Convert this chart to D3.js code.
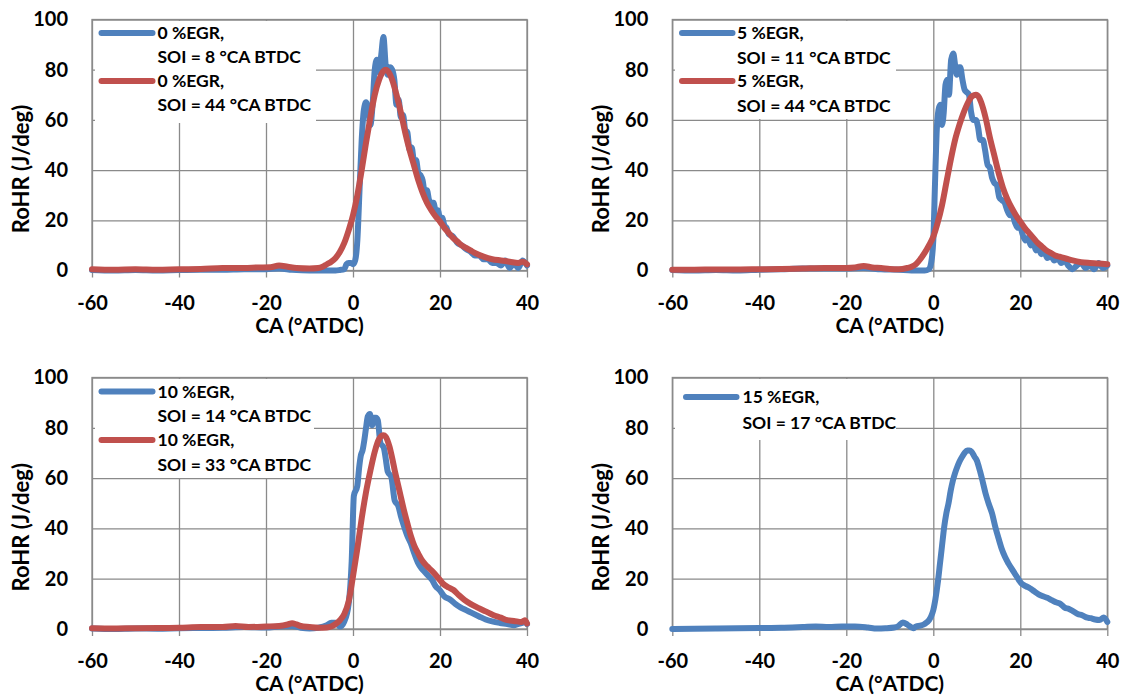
<!DOCTYPE html>
<html><head><meta charset="utf-8">
<script src="https://cdn.jsdelivr.net/npm/d3@7"></script>
<style>
html,body{margin:0;padding:0;background:#fff;}
svg text{font-family:Lato,"Open Sans",sans-serif;font-weight:bold;fill:#000;}
</style></head>
<body>
<svg id="chart" width="1126" height="698"></svg>
<script>
// ---------- data ----------
const xTicks = [-60, -40, -20, 0, 20, 40];
const yTicks = [0, 20, 40, 60, 80, 100];
const xTitle = "CA (°ATDC)";
const yTitle = "RoHR (J/deg)";

// Panel 1: 0 %EGR
const ca_0_soi8 = [-60,-55,-50,-45,-40,-35,-30,-25,-20,-17,-14,-10,-6,-4,-3,-2,-1.5,-1,-0.5,0,0.5,1,1.5,2,2.5,3,3.5,4,4.5,5,5.5,6,6.5,7,7.5,8,8.5,9,9.5,10,10.5,11,11.5,12,12.5,13,13.5,14,14.5,15,15.5,16,16.5,17,17.5,18,18.5,19,19.5,20,20.5,21,21.5,22,23,24,25,26,27,28,29,30,31,32,33,34,35,36,37,38,39,40];
const rohr_0_soi8 = [0.2,0,0.2,0,0.2,0.3,0.3,0.5,0.5,0.8,0.3,0,0,0,0.2,0.5,2.5,3,3,2.5,4,12,32,52,64,67,64,58,66,80,84,79,86,93,82,78,81,80,76,66,68,61,62,56,55,48,49,44,44,39,38,36,31,32,28,27,27,24,24,21,21,18,17,14.5,13.5,11,10,8.5,7.5,6,6,4.5,4.5,3,3,2,4,1,3,1,4,2];
const ca_0_soi44 = [-60,-55,-50,-45,-40,-35,-30,-25,-22,-19,-17,-15,-13,-10,-8,-7,-6,-5,-4,-3,-2,-1,0,1,2,3,4,5,6,7,7.5,8,9,10,11,12,13,14,15,16,17,18,19,20,21,22,23,24,25,26,27,28,30,32,34,36,38,39,40];
const rohr_0_soi44 = [0.5,0.3,0.5,0.3,0.5,0.6,1,1,1.2,1.3,2,1.5,1,0.8,1,1.5,2.5,3.5,5,7.5,11,16,22,30,40,51,61,70,76,79.5,80,79.5,76,70,63,55,48,42,36,31,27,24,21.5,19.5,17,15,13,11.5,10,9,8,7,5.5,4.5,4,3.5,3,3.5,2.5];

// Panel 2: 5 %EGR
const ca_5_soi11 = [-60,-55,-50,-45,-40,-35,-30,-25,-20,-16,-12,-8,-5,-3,-2,-1,-0.5,0,0.4,0.8,1.2,1.6,2,2.4,2.8,3.2,3.6,4.1,4.6,5,5.4,5.9,6.2,6.7,7.2,7.7,8.2,8.7,9.2,9.8,10.3,10.8,11.4,11.9,12.5,13,13.5,14,14.6,15.2,15.8,16.4,17,17.6,18.2,18.8,19.4,20,20.6,21.2,21.8,22.4,23,23.6,24.2,24.8,25.5,26.2,27,27.8,28.6,29.4,30.2,31,32,33,34,35,36,37,38,39,40];
const rohr_5_soi11 = [0.2,0,0.2,0,0.3,0.5,0.8,0.8,0.8,1,0.5,0.3,0,0,0,0.5,3,12,35,56,64,66,58,63,74,76,70,84,86.5,82,78,81,81,76,72,71,70,63,60,60,57,52,52,48,42,41,37,35,34,29,28,27,24,22,22,19,17,17,14,12,13,10,11,8,9,6.5,7.5,5,6,4,5,3,4,2,0.5,2,3,1,2,0.5,3,1,2];
const ca_5_soi44 = [-60,-55,-50,-45,-40,-35,-30,-25,-20,-18,-16,-14,-12,-10,-8,-6,-5,-4,-3,-2,-1,0,1,2,3,4,5,6,7,8,9,9.8,10.5,11,12,13,14,15,16,17,18,19,20,21,22,23,24,25,26,27,28,29,30,31,32,34,36,38,40];
const rohr_5_soi44 = [0.3,0.3,0.4,0.4,0.5,0.6,0.8,1,1,1.2,1.8,1.2,1,0.6,0.5,1,1.5,2.5,4.5,7,10,13.5,19,26,35,44,52,58,63,67,69.5,70,69,67,61,53,46,39,33,28.5,25,22,19.5,17,15,13,11,9.5,8,7,6,5.5,5,4.5,4,3.3,3,2.8,2.5];

// Panel 3: 10 %EGR
const ca_10_soi14 = [-60,-55,-50,-45,-40,-35,-30,-25,-20,-17,-14,-12,-10,-8,-6,-5,-4,-3,-2,-1,-0.3,0.2,1,1.4,1.8,2.2,2.6,3,3.4,3.9,4.4,4.9,5.3,5.7,6.3,7.1,7.5,8,8.8,9.6,10.4,11,11.7,12.5,13.3,14.1,14.9,15.8,16.6,17.4,18.2,19,19.9,21,22.3,23.5,24.8,26,27.3,29,30.5,32,33.8,35.5,37,38,39,39.6,40];
const rohr_10_soi14 = [0.2,0,0.2,0.1,0.3,0.4,0.5,0.8,0.6,1,1.2,0.5,0.2,0.5,1.5,2.5,2.5,1,3,10,27,53,57,64,69,71,75,80,84.5,85.5,81,84,84,83,74,72,68,62.5,60.5,51,49,45,41,37,34,30,26.5,24,22.5,21,19.5,17,15.5,13,11.7,10,8.5,7.5,6.4,5,3.8,3,2.4,2,1.5,2,2.5,3,2];
const ca_10_soi33 = [-60,-55,-50,-45,-40,-35,-30,-27,-24,-20,-17,-15,-14,-13,-12,-10,-8,-6,-5,-4,-3,-2,-1,0,1,2,3,4,5,6,7,7.5,8.4,9,9.6,10.2,10.8,11.6,12.5,13.3,14.1,15,15.8,17,18.2,19.5,20.7,22,23.1,24.3,25.6,27,28.9,30.5,32.2,34,35.5,37,38.8,39.5,40];
const rohr_10_soi33 = [0.3,0.2,0.3,0.4,0.5,0.8,0.8,1.2,0.8,1,1.2,1.8,2.3,1.8,1.2,0.8,0.5,0.6,1,2,3.5,6,11,21,32,44,54.5,63,70.5,75.5,77,76.5,72.4,68,63,58.5,54,48,42,37,33,30,27.5,25,23,20.5,18,16.5,15.5,13.5,11.6,10,8.3,7,5.6,4.5,3.5,3.2,2.8,3.5,2.2];

// Panel 4: 15 %EGR
const ca_15_soi17 = [-60,-55,-50,-45,-40,-35,-30,-27,-24,-21,-18,-15,-13,-11,-9,-8,-7,-6,-5,-4.5,-4,-3,-2,-1,-0.5,0,0.5,1,1.6,2,2.5,3,3.5,4,4.5,5,5.5,6,6.6,7.2,7.8,8.3,8.8,9.5,10,10.7,11.3,12,12.7,13.5,14.2,15,15.7,16.5,17.3,18.3,19.3,20.3,21.3,22.2,23.2,24.2,25.2,26.2,27.2,28.2,29.2,30.2,31.2,32.2,33.2,34.2,35.2,36.2,37.2,38.2,39.2,40];
const rohr_15_soi17 = [0,0.1,0.2,0.3,0.4,0.5,0.8,1,0.8,1,1,0.6,0.2,0.3,0.6,1.2,2.6,1.8,0.6,0.3,1,1.3,2,3.5,5,7.5,12,18,27,33,40.5,46,50,55,59,62,64.4,66.5,68.4,70,71,71,70.5,68.4,67,63,59,54,50,46,41,36,32,28.6,26,23.2,20.5,18,17,16.2,15,13.8,13,12.4,11.5,10.6,10,8.5,8,7,6,5.5,4.6,4.3,3.8,3.6,4.6,2.8];

const legends = [
  ["0 %EGR,", "SOI = 8 °CA BTDC", "0 %EGR,", "SOI = 44 °CA BTDC"],
  ["5 %EGR,", "SOI = 11 °CA BTDC", "5 %EGR,", "SOI = 44 °CA BTDC"],
  ["10 %EGR,", "SOI = 14 °CA BTDC", "10 %EGR,", "SOI = 33 °CA BTDC"],
  ["15 %EGR,", "SOI = 17 °CA BTDC"]
];

const BLUE = "#4F81BD", RED = "#C0504D", GRID = "#8A8A8A";

const panels = [
  {l:92, r:527, t:19.5, b:270.5, series:[[ca_0_soi8, rohr_0_soi8, BLUE],[ca_0_soi44, rohr_0_soi44, RED]], legend:legends[0], box:{x:95,y:21,w:221,h:102}, lx:[101.5,152.5,157.5], rows:[13.5,37.5,61.5,85.5]},
  {l:672.3, r:1107.3, t:19.5, b:270.5, series:[[ca_5_soi11, rohr_5_soi11, BLUE],[ca_5_soi44, rohr_5_soi44, RED]], legend:legends[1], box:{x:675,y:21,w:221,h:98}, lx:[682,732.5,737], rows:[13.5,38,61.5,86]},
  {l:92, r:527, t:377.5, b:629, series:[[ca_10_soi14, rohr_10_soi14, BLUE],[ca_10_soi33, rohr_10_soi33, RED]], legend:legends[2], box:{x:95,y:379,w:219,h:99}, lx:[101.5,152.5,157.5], rows:[14,38.5,62.5,87.5]},
  {l:672.3, r:1107.3, t:377.5, b:629, series:[[ca_15_soi17, rohr_15_soi17, BLUE]], legend:legends[3], box:{x:675,y:379,w:221,h:61}, lx:[686,736.5,742.5], rows:[19.5,45.5]}
];

const svg = d3.select("#chart");
svg.append("rect").attr("width",1126).attr("height",698).attr("fill","#fff");
const fmt = d => String(d);

panels.forEach(p => {
  const x = d3.scaleLinear().domain([-60, 40]).range([p.l, p.r]);
  const y = d3.scaleLinear().domain([0, 100]).range([p.b, p.t]);
  const g = svg.append("g");

  // y gridlines + labels
  const ya = g.append("g").attr("transform", `translate(${p.l},0)`)
    .call(d3.axisLeft(y).tickValues(yTicks).tickFormat(fmt).tickSize(-(p.r - p.l)).tickPadding(24));
  ya.select(".domain").remove();
  ya.selectAll(".tick line").attr("stroke", GRID).attr("stroke-width", 1.3);
  ya.selectAll(".tick text").attr("font-size", 20).attr("font-family", "Lato").attr("font-weight", "bold").attr("fill", "#000");

  // x gridlines + labels
  const ext = 7;
  const xa = g.append("g").attr("transform", `translate(0,${p.b + ext})`)
    .call(d3.axisBottom(x).tickValues(xTicks).tickFormat(fmt).tickSize(-(p.b - p.t + ext)).tickPadding(18));
  xa.select(".domain").remove();
  xa.selectAll(".tick line").attr("stroke", GRID).attr("stroke-width", 1.3);
  xa.selectAll(".tick text").attr("font-size", 20).attr("font-family", "Lato").attr("font-weight", "bold").attr("fill", "#000");

  // legend box
  g.append("rect").attr("x", p.box.x).attr("y", p.box.y).attr("width", p.box.w).attr("height", p.box.h).attr("fill", "#fff");

  // plot border
  g.append("rect").attr("x", p.l).attr("y", p.t).attr("width", p.r - p.l).attr("height", p.b - p.t)
    .attr("fill", "none").attr("stroke", GRID).attr("stroke-width", 1.3);

  // series
  const line = d3.line().x(d => x(d[0])).y(d => y(d[1])).curve(d3.curveMonotoneX);
  p.series.forEach(s => {
    const pts = s[0].map((c, i) => [c, s[1][i]]);
    g.append("path").datum(pts).attr("d", line).attr("fill", "none").attr("stroke", s[2])
      .attr("stroke-width", 6).attr("stroke-linejoin", "round").attr("stroke-linecap", "round");
  });

  // legend
  p.series.forEach((s, i) => {
    const cy = p.t + p.rows[i * 2];
    g.append("line").attr("x1", p.lx[0]).attr("x2", p.lx[1]).attr("y1", cy).attr("y2", cy)
      .attr("stroke", s[2]).attr("stroke-width", 6).attr("stroke-linecap", "round");
    g.append("text").attr("x", p.lx[2]).attr("y", cy).attr("dy", "0.35em").attr("font-size", 17.5).text(p.legend[i * 2]);
    g.append("text").attr("x", p.lx[2]).attr("y", p.t + p.rows[i * 2 + 1]).attr("dy", "0.35em").attr("font-size", 17.5).text(p.legend[i * 2 + 1]);
  });

  // axis titles
  g.append("text").attr("x", (p.l + p.r) / 2).attr("y", p.b + 62).attr("text-anchor", "middle").attr("font-size", 21).text(xTitle);
  const cy = (p.t + p.b) / 2 + 24;
  g.append("text").attr("transform", `translate(${p.l - 63},${cy}) rotate(-90)`).attr("text-anchor", "middle").attr("font-size", 22).text(yTitle);
});
</script>
</body></html>
